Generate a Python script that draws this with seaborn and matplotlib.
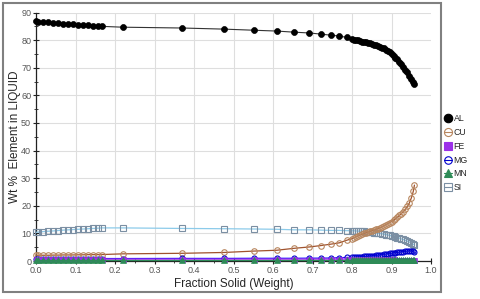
import matplotlib
matplotlib.use("Agg")
import matplotlib.pyplot as plt
import seaborn as sns
import pandas as pd
from matplotlib.ticker import MultipleLocator
from matplotlib.patches import Rectangle
from matplotlib.lines import Line2D

# Fraction solid (weight) sample points
frac_early = [0.0, 0.006, 0.018, 0.031, 0.044, 0.056, 0.069, 0.082, 0.094, 0.107,
              0.12, 0.132, 0.145, 0.157, 0.167]
frac_mid = [0.219, 0.37, 0.476, 0.551, 0.609, 0.653, 0.692, 0.721, 0.746, 0.768, 0.786]
frac_late = [0.800, 0.805, 0.810, 0.815, 0.820, 0.825, 0.830, 0.835, 0.840, 0.845,
             0.850, 0.855, 0.860, 0.865, 0.870, 0.875, 0.880, 0.885, 0.890, 0.895,
             0.900, 0.905, 0.910, 0.915, 0.920, 0.925, 0.930, 0.935, 0.940, 0.945,
             0.950, 0.955, 0.958]
frac = frac_early + frac_mid + frac_late

al = [86.8, 86.7, 86.5, 86.4, 86.2, 86.1, 86.0, 85.9, 85.8, 85.6, 85.5, 85.4, 85.2, 85.1, 85.0,
      84.7, 84.4, 84.0, 83.6, 83.3, 82.9, 82.6, 82.2, 81.8, 81.5, 81.0,
      80.4, 80.2, 80.0, 79.9, 79.7, 79.5, 79.4, 79.2, 79.0, 78.8,
      78.6, 78.4, 78.2, 77.9, 77.6, 77.3, 77.0, 76.6, 76.1, 75.6,
      75.0, 74.4, 73.7, 73.0, 72.1, 71.2, 70.3, 69.3, 68.3, 67.2,
      66.0, 64.8, 64.0]
cu = [2.1, 2.1, 2.1, 2.1, 2.15, 2.15, 2.2, 2.2, 2.2, 2.25, 2.25, 2.3, 2.3, 2.3, 2.35,
      2.6, 2.8, 3.1, 3.6, 3.9, 4.6, 5.1, 5.6, 6.1, 6.6, 7.5,
      8.1, 8.4, 8.8, 9.1, 9.4, 9.7, 10.0, 10.2, 10.5, 10.7,
      11.0, 11.2, 11.5, 11.7, 12.0, 12.3, 12.7, 13.1, 13.5, 13.9,
      14.3, 14.8, 15.3, 15.9, 16.5, 17.2, 17.9, 18.8, 19.8, 21.0,
      22.8, 25.2, 27.5]
fe = [0.7] * 15 + [0.7] * 11 + \
     [0.7, 0.7, 0.7, 0.7, 0.7, 0.7, 0.7, 0.7, 0.7, 0.7,
      0.7, 0.7, 0.7, 0.7, 0.7, 0.65, 0.65, 0.65, 0.6, 0.6,
      0.6, 0.6, 0.55, 0.55, 0.55, 0.5, 0.5, 0.5, 0.45, 0.45,
      0.45, 0.4, 0.4]
mg = [0.9] * 15 + [0.9, 0.95, 0.95, 1.0, 1.0, 1.0, 1.05, 1.05, 1.1, 1.2, 1.3,
      1.35, 1.4, 1.45, 1.5, 1.55, 1.6, 1.7, 1.75, 1.8, 1.9,
      1.95, 2.0, 2.1, 2.2, 2.25, 2.35, 2.45, 2.55, 2.65, 2.75,
      2.85, 2.95, 3.05, 3.15, 3.25, 3.35, 3.45, 3.55, 3.65, 3.7,
      3.7, 3.5, 3.1]
mn = [0.2] * 59
si = [10.4, 10.5, 10.65, 10.8, 10.9, 11.05, 11.2, 11.3, 11.4, 11.5, 11.6, 11.7, 11.8, 11.9, 12.0,
      12.0, 11.8, 11.7, 11.6, 11.5, 11.3, 11.3, 11.2, 11.1, 11.1, 11.0,
      11.0, 10.95, 10.9, 10.85, 10.8, 10.75, 10.7, 10.6, 10.55, 10.5,
      10.4, 10.3, 10.2, 10.1, 10.0, 9.9, 9.75, 9.6, 9.45, 9.3,
      9.1, 8.9, 8.7, 8.5, 8.3, 8.0, 7.8, 7.5, 7.2, 6.9,
      6.5, 6.1, 5.8]

labels = ["AL", "CU", "FE", "MG", "MN", "SI"]
xticks = [0.0, 0.1, 0.2, 0.3, 0.4, 0.5, 0.6, 0.7, 0.8, 0.9, 1.0]
yticks = [0, 10, 20, 30, 40, 50, 60, 70, 80, 90]

df = pd.DataFrame({"frac": frac, "AL": al, "CU": cu, "FE": fe, "MG": mg, "MN": mn, "SI": si})

sns.set_style("white")
plt.rcParams["font.family"] = ["Liberation Sans", "DejaVu Sans"]

fig = plt.figure(figsize=(4.8, 2.99), dpi=100)
ax = fig.add_axes([0.075, 0.127, 0.823, 0.831])

styles = {
    "SI": dict(color="#8ccbea", marker="s", markerfacecolor="none", markeredgecolor="#7b8fa3",
               markersize=4.0, markeredgewidth=0.8, linewidth=0.9),
    "CU": dict(color="#a0522d", marker="o", markerfacecolor="none", markeredgecolor="#b8865e",
               markersize=4.0, markeredgewidth=0.8, linewidth=0.9),
    "MG": dict(color="#2020ff", marker="o", markerfacecolor="none", markeredgecolor="#0000cc",
               markersize=3.6, markeredgewidth=0.8, linewidth=0.9),
    "FE": dict(color="#a020f0", marker="s", markerfacecolor="#9b30e8", markeredgecolor="#9b30e8",
               markersize=3.6, markeredgewidth=0.5, linewidth=0.9),
    "MN": dict(color="#2e8b57", marker="^", markerfacecolor="#2e8b57", markeredgecolor="#2e8b57",
               markersize=3.8, markeredgewidth=0.5, linewidth=0.9),
    "AL": dict(color="#333333", marker="o", markerfacecolor="black", markeredgecolor="black",
               markersize=4.3, markeredgewidth=0.5, linewidth=0.8),
}

for name in ["SI", "CU", "MG", "FE", "MN", "AL"]:
    sns.lineplot(data=df, x="frac", y=name, ax=ax, sort=False, estimator=None,
                 legend=False, clip_on=False, zorder=3, **styles[name])

ax.set_xlim(0, 1.0)
ax.set_ylim(0, 90)
ax.set_xticks(xticks)
ax.set_yticks(yticks)
ax.set_xticklabels([f"{t:.1f}" for t in xticks])
ax.set_yticklabels([str(t) for t in yticks])
ax.xaxis.set_minor_locator(MultipleLocator(0.05))
ax.yaxis.set_minor_locator(MultipleLocator(5))
ax.grid(True, which="major", color="#dedede", linewidth=0.8)
ax.set_axisbelow(True)
for gl in ax.get_xgridlines()[-1:]:
    gl.set_visible(False)
ax.tick_params(axis="both", which="major", labelsize=6.5, labelcolor="#555555",
               direction="inout", length=4, width=0.8, color="#222222", pad=1.5)
ax.tick_params(axis="both", which="minor", direction="inout", length=2.5, width=0.6, color="#222222")
ax.tick_params(axis="x", which="both", bottom=True)
ax.tick_params(axis="y", which="both", left=True)
for s in ["top", "right"]:
    ax.spines[s].set_visible(False)
for s in ["left", "bottom"]:
    ax.spines[s].set_color("#222222")
    ax.spines[s].set_linewidth(0.9)

ax.set_xlabel("Fraction Solid (Weight)", fontsize=8.5, labelpad=2)
ax.set_ylabel("Wt %  Element in LIQUID", fontsize=8.5)
ax.yaxis.set_label_coords(-0.038, 0.5)

handles = []
for name in labels:
    st = styles[name]
    handles.append(Line2D([0], [0], color=st["markeredgecolor"], linewidth=0.8,
                          marker=st["marker"], markerfacecolor=st["markerfacecolor"],
                          markeredgecolor=st["markeredgecolor"],
                          markersize=st["markersize"] + 1.8, markeredgewidth=0.8))
fig.legend(handles, labels, loc="upper left", bbox_to_anchor=(0.925, 0.618), frameon=False,
           fontsize=6.3, handlelength=0.9, handletextpad=0.2, labelspacing=0.55,
           borderaxespad=0, borderpad=0)

fig.patches.append(Rectangle((0.007, 0.023), 0.912, 0.967, transform=fig.transFigure,
                             fill=False, edgecolor="#808080", linewidth=1.5))

fig.savefig("out.png", dpi=100)
